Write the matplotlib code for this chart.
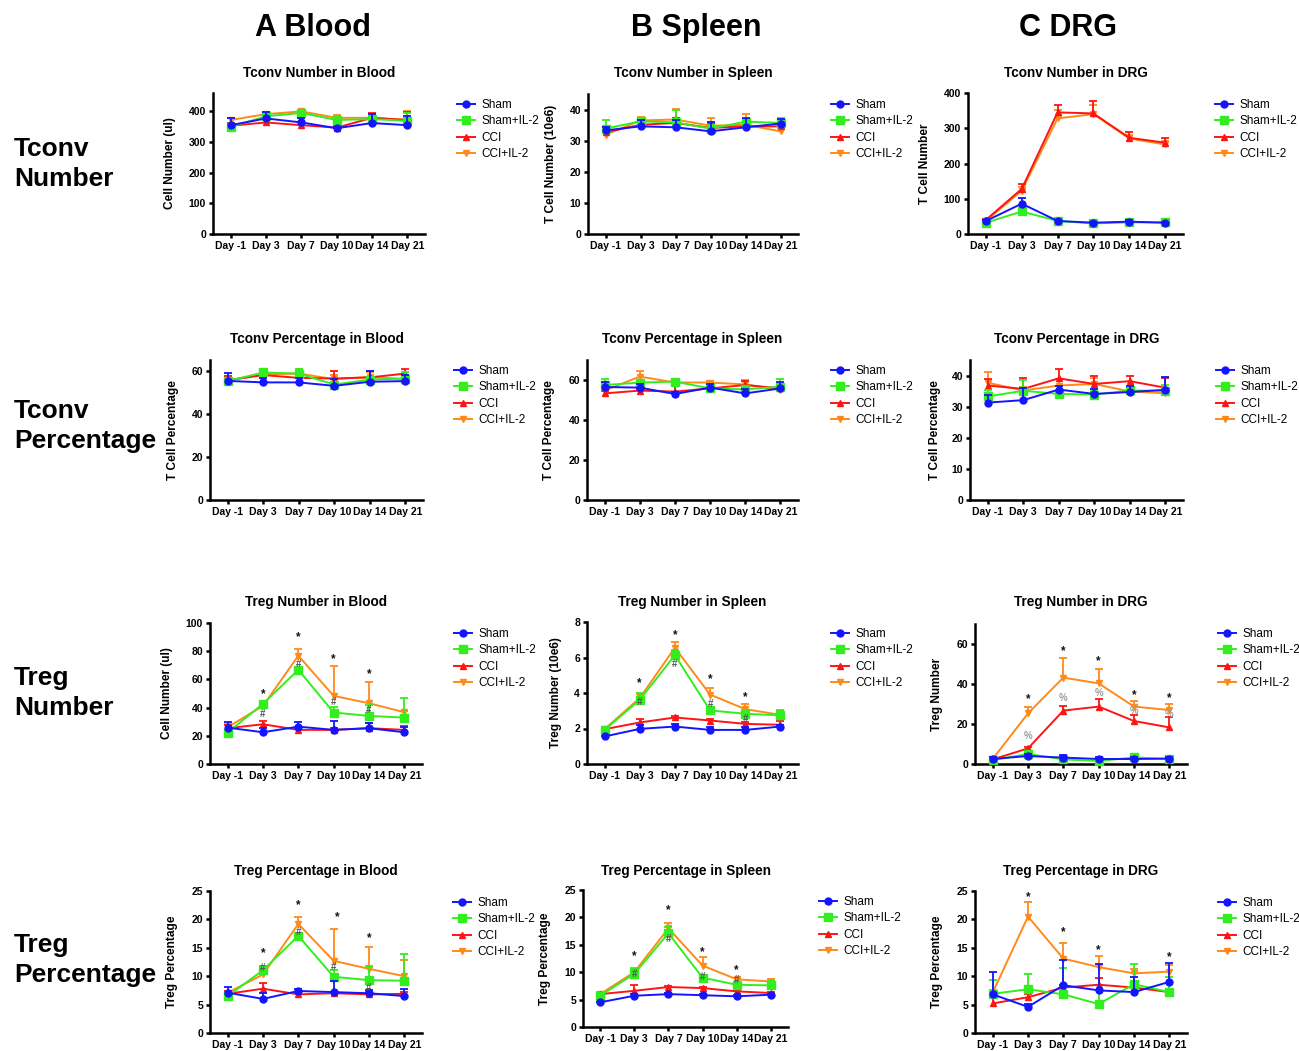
import matplotlib
matplotlib.use('Agg')
import matplotlib.pyplot as plt
import numpy as np

plt.rcParams['font.family'] = ['Liberation Sans', 'DejaVu Sans']
plt.rcParams['font.weight'] = 'bold'

W, H = 1299, 1051

days = ['Day -1', 'Day 3', 'Day 7', 'Day 10', 'Day 14', 'Day 21']
groups = ['Sham', 'Sham+IL-2', 'CCI', 'CCI+IL-2']
colors = ['#1414ff', '#33ee1f', '#ff1414', '#ff8a1a']
markers = ['o', 's', '^', 'v']
msizes = [5, 5.5, 4.5, 4.5]
zorders = [6, 5, 4, 3]

columns = ['A Blood', 'B Spleen', 'C DRG']
row_labels = [('Tconv', 'Number'), ('Tconv', 'Percentage'),
              ('Treg', 'Number'), ('Treg', 'Percentage')]

# ---- Row 1: Tconv Number ----
tconv_num_blood_mean = [[355, 377, 364, 345, 362, 355],
                        [350, 384, 395, 372, 375, 369],
                        [353, 364, 355, 347, 379, 372],
                        [372, 391, 400, 379, 379, 372]]
tconv_num_blood_err = [[24, 20, 15, 5, 29, 30],
                       [10, 8, 8, 8, 10, 25],
                       [10, 10, 10, 5, 15, 25],
                       [8, 8, 5, 8, 8, 28]]
tconv_num_spleen_mean = [[33.3, 34.6, 34.3, 33.0, 34.3, 35.5],
                         [33.9, 36.2, 35.9, 33.9, 36.1, 35.7],
                         [32.7, 35.1, 35.7, 34.1, 34.6, 34.6],
                         [31.9, 36.5, 36.8, 34.8, 35.1, 33.0]]
tconv_num_spleen_err = [[1, 2, 2.5, 3, 3, 1.5],
                        [2.8, 1.2, 4, 1, 1, 1.5],
                        [1, 1, 1.5, 1.5, 1, 1],
                        [1.5, 1, 3.5, 2.5, 3.5, 1]]
tconv_num_drg_mean = [[37, 86, 37, 32, 35, 32],
                      [32, 64, 37, 30, 33, 33],
                      [40, 128, 345, 342, 273, 259],
                      [37, 123, 328, 340, 271, 254]]
tconv_num_drg_err = [[3, 15, 3, 3, 5, 3],
                     [3, 5, 3, 3, 3, 3],
                     [3, 15, 20, 35, 15, 12],
                     [3, 10, 25, 25, 10, 10]]

# ---- Row 2: Tconv Percentage ----
tconv_pct_blood_mean = [[55.3, 54.6, 54.6, 53.0, 54.9, 55.2],
                        [55.2, 59.2, 58.7, 53.6, 55.9, 56.4],
                        [55.6, 58.0, 56.7, 56.4, 56.9, 58.7],
                        [55.6, 58.3, 58.7, 56.1, 57.2, 56.1]]
tconv_pct_blood_err = [[3.5, 2, 2, 3, 5, 3],
                       [1, 1, 2, 1, 1, 3],
                       [2, 1, 3, 3.5, 3, 2],
                       [2, 1, 2, 2, 2, 2]]
tconv_pct_spleen_mean = [[56.5, 56.2, 53.0, 56.2, 53.3, 55.8],
                         [57.5, 58.7, 59.2, 55.8, 55.3, 56.7],
                         [53.3, 54.7, 54.2, 55.8, 57.5, 55.8],
                         [54.7, 61.7, 58.8, 58.7, 57.8, 55.0]]
tconv_pct_spleen_err = [[2.5, 2, 1, 2, 2, 3],
                        [3, 1, 1, 1, 1, 4],
                        [1, 1, 3, 1, 2, 2],
                        [1, 3, 1, 1, 2, 1]]
tconv_pct_drg_mean = [[31.3, 32.1, 35.5, 34.1, 34.7, 35.4],
                      [33.3, 35.1, 34.1, 33.9, 35.2, 35.1],
                      [36.8, 35.7, 39.1, 37.3, 38.2, 36.1],
                      [37.7, 35.2, 36.8, 37.3, 34.9, 34.3]]
tconv_pct_drg_err = [[2.5, 4, 1, 1.5, 2, 4],
                     [2, 3.5, 1, 1, 1, 2],
                     [2, 3.5, 3, 2.5, 1.5, 3],
                     [3.5, 1, 2, 2, 1, 1]]

# ---- Row 3: Treg Number ----
treg_num_blood_mean = [[25.8, 22.5, 26.5, 24.2, 25.4, 22.5],
                       [22.3, 42.7, 66.8, 36.5, 34.1, 32.9],
                       [25.4, 28.2, 24.2, 24.2, 25.4, 24.2],
                       [26.1, 41.2, 76.8, 48.3, 43.1, 36.7]]
treg_num_blood_err = [[4, 3, 3, 6, 4, 4],
                      [2, 2, 2, 4, 8, 14],
                      [2, 2, 1, 1, 4, 3],
                      [2, 2, 5, 21, 15, 1]]
treg_num_spleen_mean = [[1.55, 1.98, 2.11, 1.92, 1.92, 2.11],
                        [1.92, 3.62, 6.13, 3.02, 2.83, 2.74],
                        [1.96, 2.34, 2.62, 2.45, 2.26, 2.21],
                        [1.96, 3.72, 6.55, 3.91, 3.09, 2.77]]
treg_num_spleen_err = [[0.05, 0.2, 0.15, 0.15, 0.15, 0.1],
                       [0.1, 0.4, 0.3, 0.1, 0.2, 0.3],
                       [0.05, 0.2, 0.1, 0.1, 0.1, 0.2],
                       [0.05, 0.2, 0.3, 0.35, 0.3, 0.2]]
treg_num_drg_mean = [[2.5, 4.0, 3.2, 2.5, 2.5, 2.7],
                     [2.0, 5.0, 2.3, 1.5, 3.3, 2.5],
                     [2.3, 7.8, 26.7, 28.7, 21.5, 18.3],
                     [2.5, 25.3, 43.2, 40.3, 28.7, 27.0]]
treg_num_drg_err = [[1, 1, 1.5, 1, 1, 1],
                    [1, 1, 1, 1, 1, 1],
                    [0.5, 0.5, 2.5, 4, 3, 5],
                    [0.5, 3, 10, 7, 3, 3]]

# ---- Row 4: Treg Percentage ----
treg_pct_blood_mean = [[7.1, 6.0, 7.4, 7.2, 7.0, 6.5],
                       [6.5, 11.05, 17.1, 9.9, 9.3, 9.2],
                       [6.9, 7.8, 6.8, 7.0, 6.8, 6.9],
                       [7.1, 10.3, 19.2, 12.7, 11.3, 10.0]]
treg_pct_blood_err = [[1, 1, 0.3, 2, 0.6, 1.3],
                      [0.5, 0.8, 0.5, 1.2, 2.5, 4.7],
                      [0.5, 1, 0.3, 0.3, 0.5, 0.3],
                      [0.3, 0.5, 1.3, 5.6, 3.8, 2.8]]
treg_pct_spleen_mean = [[4.5, 5.7, 6.0, 5.8, 5.6, 5.9],
                        [5.7, 9.7, 17.1, 9.0, 7.7, 7.6],
                        [6.0, 6.6, 7.3, 7.1, 6.5, 6.2],
                        [6.0, 10.0, 18.0, 11.2, 8.7, 8.3]]
treg_pct_spleen_err = [[0.1, 0.3, 0.2, 0.2, 0.3, 0.2],
                       [0.5, 0.8, 1.2, 0.3, 0.5, 0.8],
                       [0.2, 1, 0.2, 0.2, 0.3, 0.2],
                       [0.3, 0.8, 1.0, 1.5, 0.2, 0.5]]
treg_pct_drg_mean = [[6.8, 4.6, 8.4, 7.5, 7.2, 9.0],
                     [6.9, 7.7, 6.8, 5.1, 8.6, 7.2],
                     [5.2, 6.3, 8.0, 8.5, 8.0, 7.2],
                     [7.1, 20.5, 13.1, 11.6, 10.5, 10.8]]
treg_pct_drg_err = [[4, 0.5, 4.5, 4.7, 2.6, 3.4],
                    [2.4, 2.6, 4.6, 2.5, 3.5, 2.7],
                    [1.5, 0.5, 0.5, 1.2, 0.5, 0.3],
                    [0.5, 2.5, 2.7, 2.0, 0.8, 1.2]]

# significance marks: (day index, y value, symbol)
treg_num_blood_marks = [(1, 49.8, '*'), (2, 89.8, '*'), (3, 74.4, '*'), (4, 64, '*'),
                        (1, 35.5, '#'), (2, 71, '#'), (3, 43.8, '#'), (4, 38.4, '#')]
treg_num_spleen_marks = [(1, 4.57, '*'), (2, 7.26, '*'), (3, 4.79, '*'), (4, 3.75, '*'),
                         (1, 3.5, '#'), (2, 5.66, '#'), (3, 3.38, '#'), (4, 2.53, '#')]
treg_num_drg_marks = [(1, 32.3, '*'), (2, 56.5, '*'), (3, 51.5, '*'), (4, 34.5, '*'), (5, 32.8, '*'),
                      (1, 14, '%'), (2, 32.8, '%'), (3, 35.3, '%'), (4, 26.7, '%'), (5, 25, '%')]
treg_pct_blood_marks = [(1, 14.1, '*'), (2, 22.5, '*'), (3.1, 20.4, '*'), (4, 16.7, '*'),
                        (1, 11.4, '#'), (2, 17.7, '#'), (3, 11.7, '#'), (4, 7.9, '#')]
treg_pct_spleen_marks = [(1, 12.9, '*'), (2, 21.4, '*'), (3, 13.6, '*'), (4, 10.3, '*'),
                         (1, 9.7, '#'), (2, 16.1, '#'), (3, 9.1, '#'), (4, 8.5, '#')]
treg_pct_drg_marks = [(1, 23.9, '*'), (2, 17.8, '*'), (3, 14.5, '*'), (5, 13.4, '*')]

panels = [
    # row 0
    dict(box=(213, 93, 425, 234), ylim=460, yticks=[0, 100, 200, 300, 400],
         title='Tconv Number in Blood', ylabel='Cell Number (ul)', ylx=170,
         leg=(457, 104), mean=tconv_num_blood_mean, err=tconv_num_blood_err, marks=[]),
    dict(box=(588, 94, 798, 234), ylim=45, yticks=[0, 10, 20, 30, 40],
         title='Tconv Number in Spleen', ylabel='T Cell Number (10e6)', ylx=551,
         leg=(831, 104), mean=tconv_num_spleen_mean, err=tconv_num_spleen_err, marks=[]),
    dict(box=(968, 93, 1183, 234), ylim=400, yticks=[0, 100, 200, 300, 400],
         title='Tconv Number in DRG', ylabel='T Cell Number', ylx=925,
         leg=(1215, 104), mean=tconv_num_drg_mean, err=tconv_num_drg_err, marks=[]),
    # row 1
    dict(box=(210, 360, 423, 500), ylim=65, yticks=[0, 20, 40, 60],
         title='Tconv Percentage in Blood', ylabel='T Cell Percentage', ylx=173,
         leg=(454, 370), mean=tconv_pct_blood_mean, err=tconv_pct_blood_err, marks=[]),
    dict(box=(587, 360, 798, 500), ylim=70, yticks=[0, 20, 40, 60],
         title='Tconv Percentage in Spleen', ylabel='T Cell Percentage', ylx=549,
         leg=(831, 370), mean=tconv_pct_spleen_mean, err=tconv_pct_spleen_err, marks=[]),
    dict(box=(970, 360, 1183, 500), ylim=45, yticks=[0, 10, 20, 30, 40],
         title='Tconv Percentage in DRG', ylabel='T Cell Percentage', ylx=935,
         leg=(1216, 370), mean=tconv_pct_drg_mean, err=tconv_pct_drg_err, marks=[]),
    # row 2
    dict(box=(210, 623, 422, 764), ylim=100, yticks=[0, 20, 40, 60, 80, 100],
         title='Treg Number in Blood', ylabel='Cell Number (ul)', ylx=167,
         leg=(454, 633), mean=treg_num_blood_mean, err=treg_num_blood_err, marks=treg_num_blood_marks),
    dict(box=(587, 622, 798, 764), ylim=8, yticks=[0, 2, 4, 6, 8],
         title='Treg Number in Spleen', ylabel='Treg Number (10e6)', ylx=556,
         leg=(831, 633), mean=treg_num_spleen_mean, err=treg_num_spleen_err, marks=treg_num_spleen_marks),
    dict(box=(975, 624, 1187, 764), ylim=70, yticks=[0, 20, 40, 60],
         title='Treg Number in DRG', ylabel='Treg Number', ylx=937,
         leg=(1218, 633), mean=treg_num_drg_mean, err=treg_num_drg_err, marks=treg_num_drg_marks),
    # row 3
    dict(box=(210, 891, 422, 1033), ylim=25, yticks=[0, 5, 10, 15, 20, 25],
         title='Treg Percentage in Blood', ylabel='Treg Percentage', ylx=172,
         leg=(453, 902), mean=treg_pct_blood_mean, err=treg_pct_blood_err, marks=treg_pct_blood_marks),
    dict(box=(583, 890, 788, 1027), ylim=25, yticks=[0, 5, 10, 15, 20, 25],
         title='Treg Percentage in Spleen', ylabel='Treg Percentage', ylx=545,
         leg=(819, 901), mean=treg_pct_spleen_mean, err=treg_pct_spleen_err, marks=treg_pct_spleen_marks),
    dict(box=(975, 891, 1187, 1033), ylim=25, yticks=[0, 5, 10, 15, 20, 25],
         title='Treg Percentage in DRG', ylabel='Treg Percentage', ylx=937,
         leg=(1218, 902), mean=treg_pct_drg_mean, err=treg_pct_drg_err, marks=treg_pct_drg_marks),
]
title_y = [73, 339, 602, 871]

fig = plt.figure(figsize=(W / 100, H / 100), dpi=100)
fig.patch.set_facecolor('white')

x = np.arange(len(days))
mark_colors = {'*': '#111111', '#': '#555555', '%': '#999999'}

for i, p in enumerate(panels):
    l, t, r, b = p['box']
    ax = fig.add_axes([l / W, 1 - b / H, (r - l) / W, (b - t) / H])
    handles = []
    for g in range(4):
        m = np.array(p['mean'][g])
        e = np.array(p['err'][g])
        eb = ax.errorbar(x, m, yerr=[np.zeros_like(e), e], color=colors[g],
                         marker=markers[g], ms=msizes[g], lw=1.4, elinewidth=1.3,
                         capsize=3, capthick=1.3, zorder=zorders[g], clip_on=False)
        eb[1][0].set_visible(False)
        handles.append(eb[0])
    for (xi, yv, s) in p['marks']:
        ax.text(xi, yv, s, ha='center', va='center', fontsize=8.5 if s == '*' else 7,
                fontweight='bold', color=mark_colors[s], zorder=10)
    ax.set_xlim(-0.5, 5.5)
    ax.set_ylim(0, p['ylim'])
    ax.set_yticks(p['yticks'])
    ax.set_xticks(x)
    ax.set_xticklabels(days)
    for s in ['top', 'right']:
        ax.spines[s].set_visible(False)
    for s in ['left', 'bottom']:
        ax.spines[s].set_linewidth(1.8)
    ax.tick_params(axis='both', direction='out', length=3, width=1.8,
                   labelsize=7.5, pad=2)
    for lab in ax.get_xticklabels() + ax.get_yticklabels():
        lab.set_fontweight('bold')
    row = i // 3
    fig.text(((l + r) / 2) / W, 1 - title_y[row] / H, p['title'], ha='center', va='center',
             fontsize=9.8, fontweight='bold')
    fig.text(p['ylx'] / W, 1 - ((t + b) / 2) / H, p['ylabel'], rotation=90,
             ha='center', va='center', fontsize=8.6, fontweight='bold')
    hx, hy = p['leg']
    ax.legend(handles, groups, loc='upper left', bbox_to_anchor=(hx / W, 1 - (hy - 5) / H),
              bbox_transform=fig.transFigure, frameon=False,
              handlelength=1.55, handletextpad=0.5, labelspacing=0.38, borderpad=0,
              borderaxespad=0, prop={'weight': 'normal', 'size': 8.5})

col_x = [313, 696, 1068]
for cx, name in zip(col_x, columns):
    fig.text(cx / W, 1 - 28 / H, name, ha='center', va='center', fontsize=22, fontweight='bold')

row_y = [(149, 179), (411, 441), (678, 708), (945, 975)]
for (l1, l2), (y1, y2) in zip(row_labels, row_y):
    fig.text(14 / W, 1 - y1 / H, l1, ha='left', va='center', fontsize=19, fontweight='bold')
    fig.text(14 / W, 1 - y2 / H, l2, ha='left', va='center', fontsize=19, fontweight='bold')

fig.savefig('out.png', dpi=100, facecolor='white')
